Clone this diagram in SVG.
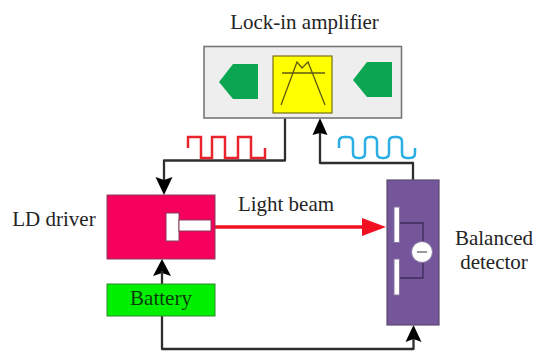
<svg xmlns="http://www.w3.org/2000/svg" width="534" height="352" viewBox="0 0 534 352">
<defs>
<style>
text{font-family:"Liberation Serif","Times New Roman",serif;fill:#242424;font-size:21px;text-anchor:middle}
.c{fill:none;stroke:#2e2e2e;stroke-width:2.300;stroke-linejoin:round}
.a{fill:#000;stroke:none}
.w{fill:#fff;stroke:#8a76a2;stroke-width:1}
.g{fill:#0aa650;stroke:none}
</style>
</defs>
<rect width="534" height="352" fill="#fff"/>
<g id="connectors">
<path class="c" d="M285 118V160.500H164V184"/>
<polygon class="a" points="164,195 155.500,177 164,180 172.500,177"/>
<path class="c" d="M320 128V163H413V180"/>
<polygon class="a" points="320,118 312.500,135 320,133 327.500,135"/>
<path class="c" d="M162 316V349H413.500V335"/>
<polygon class="a" points="162,259 153,276 162,273 171,276"/>
<path class="c" d="M162 271V284"/>
<polygon class="a" points="413.500,325 405.500,342 413.500,339 421.500,342"/>
<path d="M214 227H368" fill="none" stroke="#f01020" stroke-width="3.500"/>
<polygon points="386,227 362,218 362,236" fill="#f01020"/>
<path fill="none" stroke="#e8242c" stroke-width="2.500" d="M188 148V137H201V158H212V137H225V158H238V137H251V158H265V148"/>
<path fill="none" stroke="#2aaee4" stroke-width="2.500" stroke-linejoin="round" d="M339 148V142Q339 137 344 137H348Q353 137 353 142V153Q353 158 358 158H360Q365 158 365 153V142Q365 137 370 137H372Q377 137 377 142V153Q377 158 382 158H384Q389 158 389 153V142Q389 137 394 137H397Q402 137 402 142V153Q402 158 407 158H410Q415 158 415 153V148"/>
</g>
<g id="lock-in-amplifier">
<rect x="204" y="46.500" width="197.500" height="71.500" fill="#eeeeee" stroke="#777" stroke-width="1.600"/>
<polygon class="g" points="219,82 233,64 258,64 258,99 233,99"/>
<polygon class="g" points="353,80 367,62 392,62 392,97 367,97"/>
<rect x="273" y="56" width="59" height="57" fill="#ffff00" stroke="#77701a" stroke-width="1.200"/>
<path fill="none" stroke="#5f5a10" stroke-width="1.300" d="M281 105L297 62L302 68L308 62L325 105M282 73H325"/>
<text x="304.500" y="29">Lock-in amplifier</text>
</g>
<g id="ld-driver">
<rect x="107" y="195" width="108" height="64" fill="#f5005c" stroke="#8a3a5a" stroke-width="1"/>
<rect x="166" y="213" width="13" height="28" fill="#fff" stroke="#8a3a5a" stroke-width="1"/>
<rect x="179" y="220" width="32" height="11" fill="#fff" stroke="#8a3a5a" stroke-width="1"/>
<text x="54" y="226">LD driver</text>
</g>
<g id="battery">
<rect x="107" y="284" width="108" height="32" fill="#00f000" stroke="#2f8a2f" stroke-width="1"/>
<text x="161" y="305" style="fill:#0c3c0c">Battery</text>
</g>
<g id="balanced-detector">
<rect x="387" y="180" width="52" height="145" fill="#75569a" stroke="#5a4a70" stroke-width="1.200"/>
<path fill="none" stroke="#3c2c5c" stroke-width="1.300" d="M400 223H423V278H400"/>
<rect class="w" x="394" y="207" width="5.500" height="35.500"/>
<rect class="w" x="394" y="259" width="5.500" height="36"/>
<circle cx="422" cy="252" r="10.500" fill="#fff" stroke="#8a76a2"/>
<path d="M417 252H427" stroke="#777" stroke-width="1.500"/>
<text x="494" y="245">Balanced</text>
<text x="494" y="269">detector</text>
</g>
<g id="light-beam-label">
<text x="286" y="211">Light beam</text>
</g>
</svg>
